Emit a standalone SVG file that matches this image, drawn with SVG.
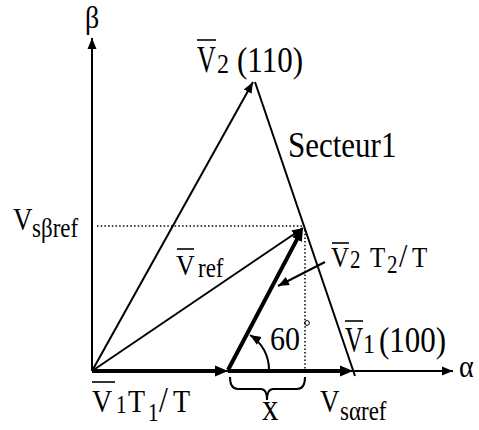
<svg xmlns="http://www.w3.org/2000/svg" width="479" height="430" viewBox="0 0 479 430">
<style>
text{font-family:'Liberation Serif','Times New Roman',serif;fill:#000}
.thin{stroke:#000;stroke-width:2;fill:none}
.thick{stroke:#000;stroke-width:4;fill:none}
.dot{stroke:#000;stroke-width:1.5;stroke-dasharray:1.5,2.2;fill:none}
.bar{stroke:#000;stroke-width:1.6}
</style>
<defs>
<marker id="a" markerUnits="userSpaceOnUse" markerWidth="12" markerHeight="10" refX="11" refY="5" orient="auto" viewBox="0 0 12 10"><path d="M0,0.5 L11,5 L0,9.5 z" fill="#000"/></marker>
<marker id="b" markerUnits="userSpaceOnUse" markerWidth="14" markerHeight="12" refX="8" refY="6" orient="auto" viewBox="0 0 14 12"><path d="M0,0.5 L13,6 L0,11.5 z" fill="#000"/></marker>
</defs>
<rect width="479" height="430" fill="#fff"/>
<g id="connectors">
<line class="thin" x1="92" y1="371" x2="92" y2="38" marker-end="url(#a)"/>
<line class="thin" x1="92" y1="371" x2="453" y2="371" marker-end="url(#a)"/>
<line class="dot" x1="97" y1="226" x2="305" y2="226"/>
<line class="dot" x1="305" y1="230" x2="305" y2="370"/>
<line class="thin" x1="92" y1="371" x2="253" y2="82" marker-end="url(#a)"/>
<line class="thin" x1="255" y1="82" x2="355" y2="376"/>
<line class="thin" x1="92" y1="371" x2="303" y2="228" marker-end="url(#a)"/>
<line class="thick" x1="92" y1="371" x2="223" y2="371" marker-end="url(#b)"/>
<line class="thick" x1="228" y1="371" x2="348" y2="371" marker-end="url(#b)"/>
<line class="thick" x1="228" y1="370" x2="300.7" y2="232.4" marker-end="url(#b)"/>
<line class="thin" x1="325" y1="262" x2="278" y2="286" marker-end="url(#a)"/>
<path class="thin" d="M269,370 A41,41 0 0 0 250,335" marker-end="url(#a)"/>
<path class="thin" d="M230,377 Q230,389 238,389 L261,389 Q267,389 267,400 Q267,389 273,389 L297,389 Q305,389 305,377"/>
<circle cx="307" cy="323" r="2.4" fill="none" stroke="#000" stroke-width="1"/>
</g>
<g id="beta"><text transform="translate(92,28) scale(1,1.15)" font-size="28" text-anchor="middle">β</text></g>
<g id="alpha"><text transform="translate(459,377) scale(1,1.15)" font-size="28">α</text></g>
<g id="v2">
<line class="bar" x1="197" y1="40" x2="216" y2="40"/>
<text transform="translate(197,72) scale(1,1.45)" font-size="26">V</text>
<text transform="translate(217,73) scale(1,1.15)" font-size="24">2</text>
<text transform="translate(237,72) scale(1,1.15)" font-size="31">(110)</text>
</g>
<g id="secteur"><text transform="translate(288,157) scale(1,1.15)" font-size="31">Secteur1</text></g>
<g id="vsbeta"><text transform="translate(13,230) scale(1,1.15)" font-size="27"><tspan x="0">V</tspan><tspan x="19" dy="6" font-size="23">sβref</tspan></text></g>
<g id="vref">
<line class="bar" x1="177" y1="249" x2="194" y2="249"/>
<text transform="translate(176,275) scale(1,1.15)" font-size="26"><tspan x="0">V</tspan><tspan x="22" dy="2" font-size="23">ref</tspan></text>
</g>
<g id="v2t2">
<line class="bar" x1="332" y1="243" x2="349" y2="243"/>
<text transform="translate(331,267) scale(1,1.15)" font-size="25"><tspan x="0">V</tspan><tspan x="19" font-size="21" dy="1">2</tspan><tspan x="39" dy="-1">T</tspan><tspan x="56" dy="5" font-size="21">2</tspan><tspan x="68" dy="-5" font-size="30">/</tspan><tspan x="81">T</tspan></text>
</g>
<g id="angle"><text transform="translate(270,350) scale(1,1.15)" font-size="30">60</text></g>
<g id="v1">
<line class="bar" x1="345" y1="321" x2="363" y2="321"/>
<text transform="translate(345,352) scale(1,1.45)" font-size="25">V</text>
<text transform="translate(363,353) scale(1,1.15)" font-size="24">1</text>
<text transform="translate(379,352) scale(1,1.15)" font-size="31">(100)</text>
</g>
<g id="v1t1">
<line class="bar" x1="92" y1="382" x2="115" y2="382"/>
<text transform="translate(92,412) scale(1,1.15)" font-size="28"><tspan x="0">V</tspan><tspan x="24" font-size="21" dy="1">1</tspan><tspan x="36" dy="-1">T</tspan><tspan x="56" dy="8" font-size="21">1</tspan><tspan x="67" dy="-8" font-size="32">/</tspan><tspan x="81">T</tspan></text>
</g>
<g id="xlabel"><text transform="translate(262,420) scale(1,1.15)" font-size="33">x</text></g>
<g id="vsalpha"><text transform="translate(320,412) scale(1,1.15)" font-size="27"><tspan x="0">V</tspan><tspan x="20" dy="7" font-size="23">sαref</tspan></text></g>
</svg>
